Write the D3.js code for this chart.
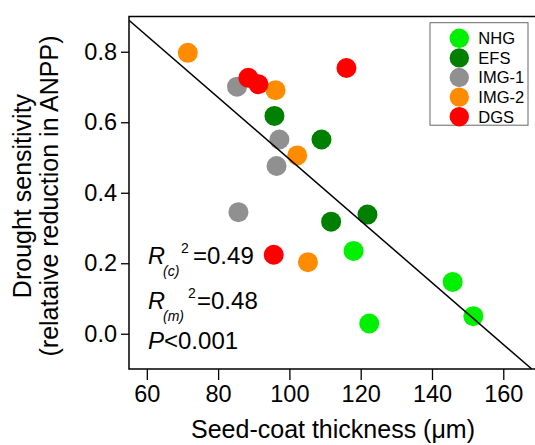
<!DOCTYPE html>
<html>
<head>
<meta charset="utf-8">
<script src="https://cdn.jsdelivr.net/npm/d3@7"></script>
<style>
  html, body { margin: 0; padding: 0; background: #fff; overflow: hidden; }
  svg { display: block; font-family: "Liberation Sans", Arial, sans-serif; }
</style>
</head>
<body>
<div id="chart"></div>
<script>
// Data (seed-coat thickness in um, drought sensitivity)
const groups = ["NHG", "EFS", "IMG-1", "IMG-2", "DGS"];
const groupColors = ["#00f000", "#008000", "#909090", "#ff8c00", "#ff0000"];

const nhgX = [118.0, 145.8, 151.6, 122.4];
const nhgY = [0.235, 0.147, 0.050, 0.029];
const efsX = [95.8, 109.0, 111.7, 121.9];
const efsY = [0.618, 0.551, 0.318, 0.338];
const img1X = [85.3, 97.2, 96.4, 85.7];
const img1Y = [0.701, 0.551, 0.476, 0.345];
const img2X = [71.5, 96.1, 102.2, 105.2];
const img2Y = [0.797, 0.691, 0.506, 0.203];
const dgsX = [88.5, 91.3, 116.0, 95.6];
const dgsY = [0.726, 0.708, 0.754, 0.224];

// regression line end points
const fitX = [55, 168];
const fitY = [0.889, -0.1];

const xTicks = [60, 80, 100, 120, 140, 160];
const yTicks = [0.0, 0.2, 0.4, 0.6, 0.8];

const statsLines = [
	{ main: "R", sub: "(c)", sup: "2", rest: "=0.49" },
	{ main: "R", sub: "(m)", sup: "2", rest: "=0.48" }
];
const pText = ["P", "<0.001"];

// General Variables
const width = 535, height = 445;
const margin = { top: 16.5, right: 0, left: 129, bottom: 76 };
const innerWidth = width - margin.left - margin.right;
const innerHeight = height - margin.top - margin.bottom;

const svg = d3.select("#chart").append("svg")
	.attr("width", width)
	.attr("height", height);

const g = svg.append("g")
	.attr("transform", "translate(" + margin.left + "," + margin.top + ")");

// scales
const x = d3.scaleLinear().domain([55, 168.9]).range([0, innerWidth]);
const y = d3.scaleLinear().domain([-0.1, 0.9]).range([innerHeight, 0]);

// build point table from the group arrays
const xs = [nhgX, efsX, img1X, img2X, dgsX];
const ys = [nhgY, efsY, img1Y, img2Y, dgsY];
let points = [];
groups.forEach(function (grp, i) {
	xs[i].forEach(function (v, j) {
		points.push({ group: grp, x: v, y: ys[i][j], color: groupColors[i] });
	});
});

// clip for plot area
svg.append("clipPath").attr("id", "plotclip")
	.append("rect").attr("width", innerWidth).attr("height", innerHeight);

// points
g.append("g")
	.selectAll("circle")
	.data(points).enter()
	.append("circle")
	.attr("cx", d => x(d.x))
	.attr("cy", d => y(d.y))
	.attr("r", 10)
	.attr("fill", d => d.color);

// regression line
g.append("line")
	.attr("clip-path", "url(#plotclip)")
	.attr("x1", x(fitX[0])).attr("y1", y(fitY[0]))
	.attr("x2", x(fitX[1])).attr("y2", y(fitY[1]))
	.attr("stroke", "#000")
	.attr("stroke-width", 1.5);

// Y Axis
const yAxis = g.append("g")
	.call(d3.axisLeft(y).tickValues(yTicks).tickFormat(d3.format(".1f")).tickSizeOuter(0).tickSize(8).tickPadding(4));
yAxis.select(".domain").remove();
yAxis.selectAll("text").attr("font-size", 23.5).attr("fill", "#000");
yAxis.selectAll("line").attr("stroke-width", 1.3);

// X Axis
const xAxis = g.append("g")
	.attr("transform", "translate(0," + innerHeight + ")")
	.call(d3.axisBottom(x).tickValues(xTicks).tickSizeOuter(0).tickSize(11).tickPadding(5));
xAxis.select(".domain").remove();
xAxis.selectAll("text").attr("font-size", 23.5).attr("fill", "#000");
xAxis.selectAll("line").attr("stroke-width", 1.3);

// plot box (left, top, bottom)
g.append("path")
	.attr("d", "M" + innerWidth + ",0H0V" + innerHeight + "H" + innerWidth)
	.attr("fill", "none")
	.attr("stroke", "#000")
	.attr("stroke-width", 1.5);

// axis labels
svg.append("text")
	.attr("x", 333)
	.attr("y", 438)
	.attr("text-anchor", "middle")
	.attr("font-size", 25)
	.text("Seed-coat thickness (μm)");

const yLabels = ["Drought sensitivity", "(relataive reduction in ANPP)"];
const yLabelX = [31, 58];
yLabels.forEach(function (lab, i) {
	svg.append("text")
		.attr("transform", "translate(" + yLabelX[i] + ",196) rotate(-90)")
		.attr("text-anchor", "middle")
		.attr("font-size", 25)
		.text(lab);
});

// stats annotation
const statBase = [264, 309];
const subX = [163, 163], supX = [181, 188], restX = [193, 197];
statsLines.forEach(function (s, i) {
	svg.append("text").attr("x", 148).attr("y", statBase[i])
		.attr("font-size", 23.5).attr("font-style", "italic").text(s.main);
	svg.append("text").attr("x", subX[i]).attr("y", statBase[i] + 12)
		.attr("font-size", 14).attr("font-style", "italic").text(s.sub);
	svg.append("text").attr("x", supX[i]).attr("y", statBase[i] - 11)
		.attr("font-size", 14).text(s.sup);
	svg.append("text").attr("x", restX[i]).attr("y", statBase[i])
		.attr("font-size", 24).text(s.rest);
});
svg.append("text").attr("x", 148).attr("y", 349)
	.attr("font-size", 24).attr("font-style", "italic").text(pText[0]);
svg.append("text").attr("x", 164).attr("y", 349)
	.attr("font-size", 24).text(pText[1]);

// legend
const legend = svg.append("g").attr("transform", "translate(430,22.7)");
legend.append("rect")
	.attr("width", 98).attr("height", 102.5)
	.attr("fill", "#fff")
	.attr("stroke", "#666")
	.attr("stroke-width", 1);
const rows = legend.selectAll("g.row")
	.data(groups).enter()
	.append("g")
	.attr("class", "row")
	.attr("transform", (d, i) => "translate(0," + (15.6 + i * 19.6) + ")");
rows.append("circle")
	.attr("cx", 29.3).attr("r", 9.7)
	.attr("fill", (d, i) => groupColors[i]);
rows.append("text")
	.attr("x", 48.3).attr("y", 5.8)
	.attr("font-size", 16.5)
	.text(d => d);
</script>
</body>
</html>
